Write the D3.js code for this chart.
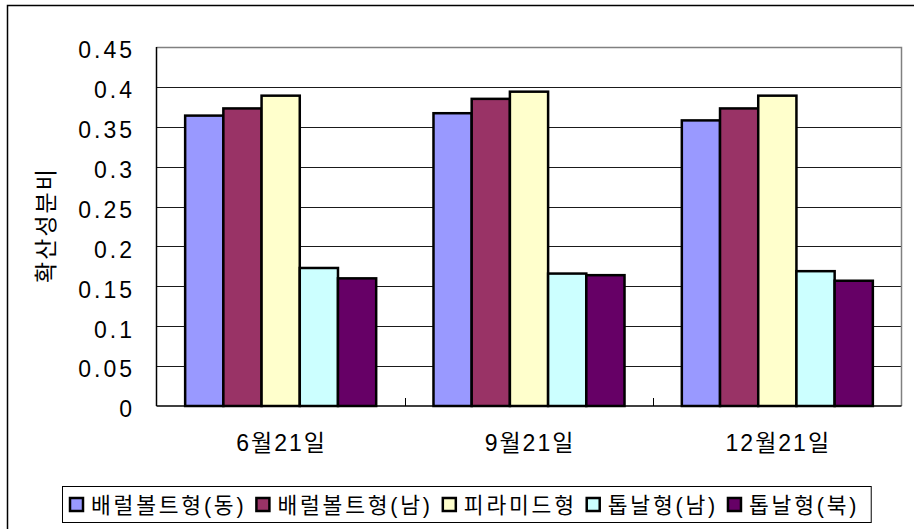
<!DOCTYPE html>
<html>
<head>
<meta charset="utf-8">
<script src="https://cdn.jsdelivr.net/npm/d3@7"></script>
<style>
  body{margin:0;background:#fff;}
  text{font-family:"Liberation Sans","Noto Sans CJK KR",sans-serif;}
</style>
</head>
<body>
<div id="container"></div>
<script>
let w=914;
let h=529;

// data
let categories = ["6월21일","9월21일","12월21일"];
let seriesNames = ["배럴볼트형(동)","배럴볼트형(남)","피라미드형","톱날형(남)","톱날형(북)"];
let seriesColors = ["#9999FF","#993366","#FFFFCC","#CCFFFF","#660066"];
let barrelEast = [0.364,0.367,0.358];
let barrelSouth = [0.373,0.385,0.373];
let pyramid = [0.389,0.394,0.389];
let sawSouth = [0.173,0.166,0.169];
let sawNorth = [0.160,0.164,0.157];
let yTicks = [0,0.05,0.1,0.15,0.2,0.25,0.3,0.35,0.4,0.45];
let yTickLabels = ["0","0.05","0.1","0.15","0.2","0.25","0.3","0.35","0.4","0.45"];
let yTitle = "확산성분비";

let seriesValues = [barrelEast,barrelSouth,pyramid,sawSouth,sawNorth];

let plot = {left:156.5, right:901.5, top:47, bottom:406};

let viz = d3.select("#container")
  .append("svg")
    .attr("width",w)
    .attr("height",h)
    .style("background-color","white")
    .style("display","block")
;

// outer chart frame (runs off the right and bottom edges)
viz.append("rect")
  .attr("x",7.5)
  .attr("y",5.5)
  .attr("width",940)
  .attr("height",560)
  .attr("fill","none")
  .attr("stroke","#000")
  .attr("stroke-width",1.5)
;

let x0 = d3.scaleBand()
  .domain(categories)
  .range([plot.left,plot.right])
  .paddingInner(0)
  .paddingOuter(0)
;

let x1 = d3.scaleBand()
  .domain(d3.range(seriesNames.length))
  .range([0,x0.bandwidth()])
  .paddingInner(0)
  .paddingOuter(0.75)
;

let y = d3.scaleLinear()
  .domain([0,0.45])
  .range([plot.bottom,plot.top])
;

// gridlines
viz.append("g")
  .selectAll("line")
  .data(yTicks.filter(d=>d>0 && d<0.45))
  .enter()
  .append("line")
    .attr("x1",plot.left)
    .attr("x2",plot.right)
    .attr("y1",d=>Math.round(y(d))+0.5)
    .attr("y2",d=>Math.round(y(d))+0.5)
    .attr("stroke","#1a1a1a")
    .attr("stroke-width",1.2)
;

// plot frame top and right in gray
viz.append("path")
  .attr("d","M"+plot.left+","+(y(0.45)+0.5)+"H"+plot.right+"V"+plot.bottom)
  .attr("fill","none")
  .attr("stroke","#808080")
  .attr("stroke-width",1.5)
;

// bars
let groups = viz.selectAll(".catgroup")
  .data(categories)
  .enter()
  .append("g")
    .attr("class","catgroup")
    .attr("transform",d=>"translate("+x0(d)+",0)")
;

groups.selectAll("rect")
  .data((d,ci)=>seriesValues.map((vals,si)=>({si:si,v:vals[ci]})))
  .enter()
  .append("rect")
    .attr("x",d=>x1(d.si))
    .attr("y",d=>y(d.v))
    .attr("width",x1.bandwidth())
    .attr("height",d=>y(0)-y(d.v))
    .attr("fill",d=>seriesColors[d.si])
    .attr("stroke","#000")
    .attr("stroke-width",2.5)
;

// y axis line
viz.append("line")
  .attr("x1",plot.left)
  .attr("x2",plot.left)
  .attr("y1",plot.top)
  .attr("y2",plot.bottom)
  .attr("stroke","#000")
  .attr("stroke-width",1.5)
;

// x axis line with inward ticks at category boundaries
viz.append("line")
  .attr("x1",plot.left)
  .attr("x2",plot.right)
  .attr("y1",plot.bottom)
  .attr("y2",plot.bottom)
  .attr("stroke","#000")
  .attr("stroke-width",1.5)
;

viz.append("g")
  .selectAll("line")
  .data(categories.slice(1))
  .enter()
  .append("line")
    .attr("x1",d=>Math.round(x0(d))+0.5)
    .attr("x2",d=>Math.round(x0(d))+0.5)
    .attr("y1",plot.bottom)
    .attr("y2",plot.bottom-8)
    .attr("stroke","#000")
    .attr("stroke-width",1)
;

// y tick labels
viz.append("g")
  .selectAll("text")
  .data(yTicks)
  .enter()
  .append("text")
    .attr("x",135)
    .attr("y",d=>y(d)+3)
    .attr("dy","0.36em")
    .attr("text-anchor","end")
    .style("font-size","23px")
    .style("letter-spacing","3px")
    .attr("fill","#000")
    .text((d,i)=>yTickLabels[i])
;

// category labels
viz.append("g")
  .selectAll("text")
  .data(categories)
  .enter()
  .append("text")
    .attr("x",d=>x0(d)+x0.bandwidth()/2+1)
    .attr("y",443)
    .attr("dy","0.36em")
    .attr("text-anchor","middle")
    .style("font-size","23px")
    .style("letter-spacing","2px")
    .attr("fill","#000")
    .text(d=>d)
;

// y title
viz.append("text")
  .attr("transform","translate(54,225) rotate(-90)")
  .attr("text-anchor","middle")
  .style("font-size","23px")
  .style("letter-spacing","2px")
  .attr("fill","#000")
  .text(yTitle)
;

// legend
let legend = viz.append("g");
let legendBox = legend.append("rect");
let lx = 70;
let legendY = 505;

seriesNames.forEach(function(name,i){
  legend.append("rect")
    .attr("x",lx)
    .attr("y",legendY-7)
    .attr("width",13)
    .attr("height",13)
    .attr("fill",seriesColors[i])
    .attr("stroke","#000")
    .attr("stroke-width",2.5)
  ;
  let t = legend.append("text")
    .attr("x",lx+21)
    .attr("y",legendY)
    .attr("dy","0.36em")
    .style("font-size","21.5px")
    .style("letter-spacing","2.8px")
    .attr("fill","#000")
    .text(name)
  ;
  lx = lx + 21 + t.node().getComputedTextLength() + 10;
});

legendBox
  .attr("x",62.5)
  .attr("y",486.5)
  .attr("width",lx-10+12-62.5)
  .attr("height",36)
  .attr("fill","white")
  .attr("stroke","#000")
  .attr("stroke-width",1)
;
</script>
</body>
</html>
